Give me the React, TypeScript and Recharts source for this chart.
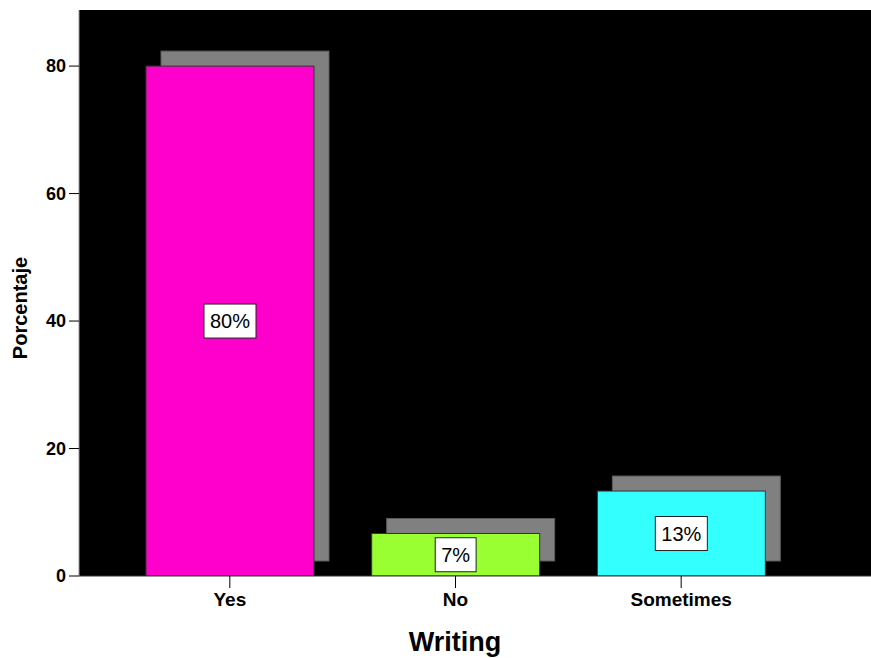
import React from "react";
import {
  Bar,
  BarChart,
  CartesianGrid,
  Cell,
  LabelList,
  XAxis,
  YAxis,
} from "recharts";

// categories and percentages
const categories = ["Yes", "No", "Sometimes"];
const percentages = [80, 6.67, 13.33];
const barLabels = ["80%", "7%", "13%"];
const barColors = ["#ff00cc", "#99ff33", "#33ffff"];
const yTicks = [0, 20, 40, 60, 80];

const data = categories.map((name, i) => ({
  name,
  value: percentages[i],
  label: barLabels[i],
}));

const FONT = "'Liberation Sans', Arial, sans-serif";
const SHADOW = 15;

// bar with a gray drop shadow up and to the right
function ShadowBar(props: any) {
  const { x, y, width, height, fill } = props;
  return (
    <g>
      <rect
        x={x + SHADOW}
        y={y - SHADOW}
        width={width}
        height={height}
        fill="#808080"
        stroke="#5a5a5a"
        strokeWidth={1}
      />
      <rect
        x={x}
        y={y}
        width={width}
        height={height}
        fill={fill}
        stroke="#333"
        strokeWidth={1}
      />
    </g>
  );
}

function textWidth(s: string, fs: number) {
  let w = 0;
  for (const c of s) w += c === "%" ? fs * 0.889 : fs * 0.556;
  return w;
}

function BoxLabel(props: any) {
  const { x, y, width, height, value } = props;
  const fs = 20;
  const w = textWidth(String(value), fs) + 12;
  const h = 34;
  const cx = x + width / 2;
  const cy = y + height / 2;
  return (
    <g>
      <rect
        x={cx - w / 2}
        y={cy - h / 2}
        width={w}
        height={h}
        fill="#fff"
        stroke="#222"
        strokeWidth={1}
      />
      <text
        x={cx}
        y={cy}
        textAnchor="middle"
        dominantBaseline="central"
        fontFamily={FONT}
        fontSize={fs}
        fontWeight={500}
        fill="#000"
      >
        {value}
      </text>
    </g>
  );
}

export default function App() {
  return (
    <div style={{ position: "absolute", left: 0, top: 0, background: "#fff" }}>
      <BarChart
        width={871}
        height={658}
        data={data}
        margin={{ top: 10, right: 0, bottom: 0, left: 0 }}
        barSize={168}
      >
        <CartesianGrid
          fill="#000"
          stroke="none"
          horizontal={false}
          vertical={false}
        />
        <XAxis
          dataKey="name"
          height={82}
          padding={{ left: 38, right: 77 }}
          axisLine={{ stroke: "#333" }}
          tickLine={{ stroke: "#000" }}
          tickSize={12}
          tickMargin={5}
          tick={{ fill: "#000", fontSize: 19, fontWeight: "bold", fontFamily: FONT }}
          label={{
            value: "Writing",
            position: "insideBottom",
            offset: 7,
            dx: -20,
            fill: "#000",
            fontSize: 27,
            fontWeight: "bold",
            fontFamily: FONT,
          }}
        />
        <YAxis
          width={79}
          domain={[0, 88.8]}
          ticks={yTicks}
          allowDataOverflow
          axisLine={{ stroke: "#999" }}
          tickLine={{ stroke: "#000" }}
          tickSize={10}
          tickMargin={3}
          tick={{ fill: "#000", fontSize: 18, fontWeight: "bold", fontFamily: FONT }}
          label={{
            value: "Porcentaje",
            angle: -90,
            position: "center",
            dx: -20,
            dy: 15,
            fill: "#000",
            fontSize: 20,
            fontWeight: "bold",
            fontFamily: FONT,
          }}
        />
        <Bar dataKey="value" shape={<ShadowBar />} isAnimationActive={false}>
          {data.map((d, i) => (
            <Cell key={d.name} fill={barColors[i]} />
          ))}
          <LabelList dataKey="label" content={<BoxLabel />} />
        </Bar>
      </BarChart>
    </div>
  );
}
